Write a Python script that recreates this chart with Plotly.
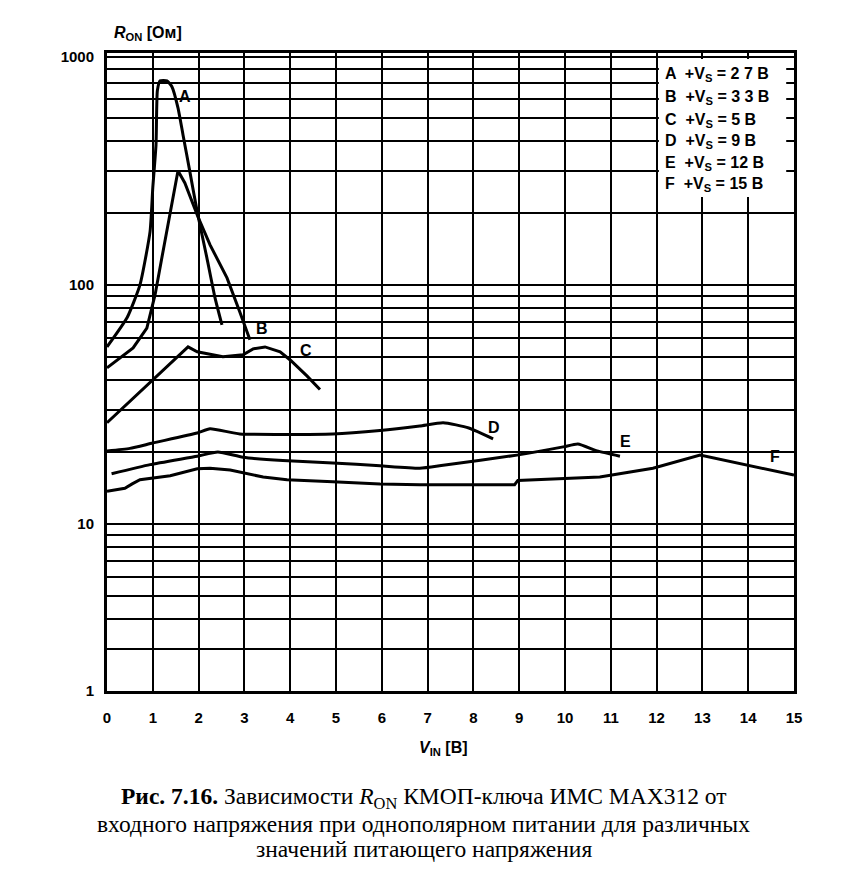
import math
import plotly.graph_objects as go

# ---- data (V_IN in volts, R_ON in ohms) ----
A_v = [0.0, 0.44, 0.72, 0.94, 1.0, 1.07, 1.10, 1.16, 1.31, 1.42, 1.55, 1.66, 1.81, 1.97, 2.18, 2.36, 2.51]
A_r = [55, 73, 100, 167, 255, 385, 650, 714, 714, 673, 550, 424, 297, 202, 130, 88, 68]

B_v = [0.0, 0.57, 0.87, 1.05, 1.22, 1.42, 1.55, 1.70, 1.97, 2.25, 2.62, 2.90, 3.12]
B_r = [45, 54.5, 66, 91, 137, 216, 300, 267, 196, 147, 107, 77, 59]

C_v = [0.0, 1.77, 1.97, 2.53, 2.97, 3.19, 3.45, 3.78, 4.0, 4.37, 4.65]
C_r = [26.5, 55, 52.5, 50, 51, 54, 55, 52.5, 48.5, 41.5, 36.5]

D_v = [0.0, 0.5, 1.0, 1.97, 2.25, 2.9, 4.93, 5.96, 6.83, 7.34, 7.9, 8.43]
D_r = [20.2, 20.7, 21.8, 24.0, 25.0, 23.8, 23.8, 24.6, 25.7, 26.5, 25.2, 22.7]

E_v = [0.1, 0.94, 1.97, 2.42, 2.97, 3.84, 4.93, 5.96, 6.83, 7.34, 8.95, 9.96, 10.28, 10.7, 11.2]
E_r = [16.2, 17.7, 19.2, 20.0, 19.0, 18.4, 18.0, 17.5, 17.1, 17.6, 19.4, 21.0, 21.6, 20.2, 19.2]

F_v = [0.0, 0.39, 0.55, 0.72, 1.38, 1.97, 2.25, 2.69, 3.41, 3.93, 4.93, 5.96, 6.83, 8.9, 8.97, 10.76, 11.92, 12.95, 15.0]
F_r = [13.7, 14.1, 14.7, 15.3, 15.9, 17.0, 17.1, 16.8, 15.7, 15.3, 15.0, 14.7, 14.6, 14.6, 15.2, 15.7, 17.1, 19.4, 16.0]

curve_names = ["A", "B", "C", "D", "E", "F"]
supply_text = ["2 7 В", "3 3 В", "5 В", "9 В", "12 В", "15 В"]
label_pos_v = [1.70, 3.38, 4.35, 8.45, 11.31, 14.59]
label_pos_r = [612, 66, 53.4, 25.2, 22.2, 19.1]

x_ticks = list(range(0, 16))
y_tick_vals = [2, 10, 100, 900]
y_tick_text = ["1", "10", "100", "1000"]
y_grid_vals = [m * d for d in (1, 10, 100) for m in range(2, 10)] + [10, 100]

FONT = "Liberation Sans, Arial, sans-serif"
SERIF = "Liberation Serif, Times New Roman, serif"
GRID_W = 1.6

fig = go.Figure()
series = [(A_v, A_r, "spline"), (B_v, B_r, "linear"), (C_v, C_r, "linear"),
          (D_v, D_r, "spline"), (E_v, E_r, "spline"), (F_v, F_r, "linear")]
for name, (xv, yv, shape) in zip(curve_names, series):
    line = dict(color="black", width=3, shape=shape)
    if shape == "spline":
        line["smoothing"] = 0.5
    fig.add_trace(go.Scatter(x=xv, y=yv, mode="lines", name=name, line=line,
                             showlegend=False, hoverinfo="skip"))

# curve labels
for name, lv, lr in zip(curve_names, label_pos_v, label_pos_r):
    fig.add_annotation(x=lv, y=math.log10(lr), xref="x", yref="y", text=name,
                       showarrow=False,
                       font=dict(family=FONT, size=16, color="black", weight="bold"))

# legend box (white, covers the grid)
fig.add_shape(type="rect", xref="x", yref="y", x0=12.05, x1=14.83,
              y0=233, y1=880,
              fillcolor="white", line=dict(width=0), layer="between")

legend_rows_r = [760, 610, 488, 398, 322, 262]
for name, st, rr in zip(curve_names, supply_text, legend_rows_r):
    fig.add_annotation(x=12.14, y=math.log10(rr), xref="x", yref="y", xanchor="left",
                       text=f"{name}  +V<sub>S</sub> = {st}", showarrow=False,
                       font=dict(family=FONT, size=16, color="black", weight="bold"))

# axis titles
fig.add_annotation(x=0.008, y=1.0, xref="paper", yref="paper", xanchor="left", yanchor="bottom",
                   yshift=8, text="<i>R</i><sub>ON</sub> [Ом]", showarrow=False,
                   font=dict(family=FONT, size=16, color="black", weight="bold"))
fig.add_annotation(x=0.49, y=0, xref="paper", yref="paper", xanchor="center", yanchor="top",
                   yshift=-46, text="<i>V</i><sub>IN</sub> [В]", showarrow=False,
                   font=dict(family=FONT, size=16, color="black", weight="bold"))

# caption
caption = ["<b>Рис. 7.16.</b> Зависимости <i>R</i><sub>ON</sub> КМОП-ключа ИМС MAX312 от",
           "входного напряжения при однополярном питании для различных",
           "значений питающего напряжения"]
for i, line in enumerate(caption):
    fig.add_annotation(x=0.4614, y=0, xref="paper", yref="paper", xanchor="center", yanchor="middle",
                       yshift=-107 - 25.5 * i, text=line, showarrow=False,
                       font=dict(family=SERIF, size=23.5, color="black"))

fig.update_layout(
    width=840, height=888,
    margin=dict(l=99, r=54, t=45, b=205),
    paper_bgcolor="white", plot_bgcolor="white",
    xaxis=dict(range=[0, 15], tickvals=x_ticks, ticktext=[str(v) for v in x_ticks],
               showgrid=True, gridcolor="black", gridwidth=GRID_W, zeroline=False,
               showline=True, linecolor="black", linewidth=3, mirror=True,
               ticks="", ticklabelstandoff=11,
               tickfont=dict(family=FONT, size=15, color="black", weight="bold")),
    yaxis=dict(type="log", range=[math.log10(2), 2.970],
               tickvals=y_tick_vals, ticktext=y_tick_text,
               showgrid=True, gridcolor="black", gridwidth=GRID_W, zeroline=False,
               showline=True, linecolor="black", linewidth=3, mirror=True,
               ticks="", ticklabelstandoff=7,
               tickfont=dict(family=FONT, size=15, color="black", weight="bold"),
               minor=dict(tickmode="array", tickvals=y_grid_vals, showgrid=True,
                          gridcolor="black", gridwidth=GRID_W, ticks="")),
)

fig.write_html("out.html")
